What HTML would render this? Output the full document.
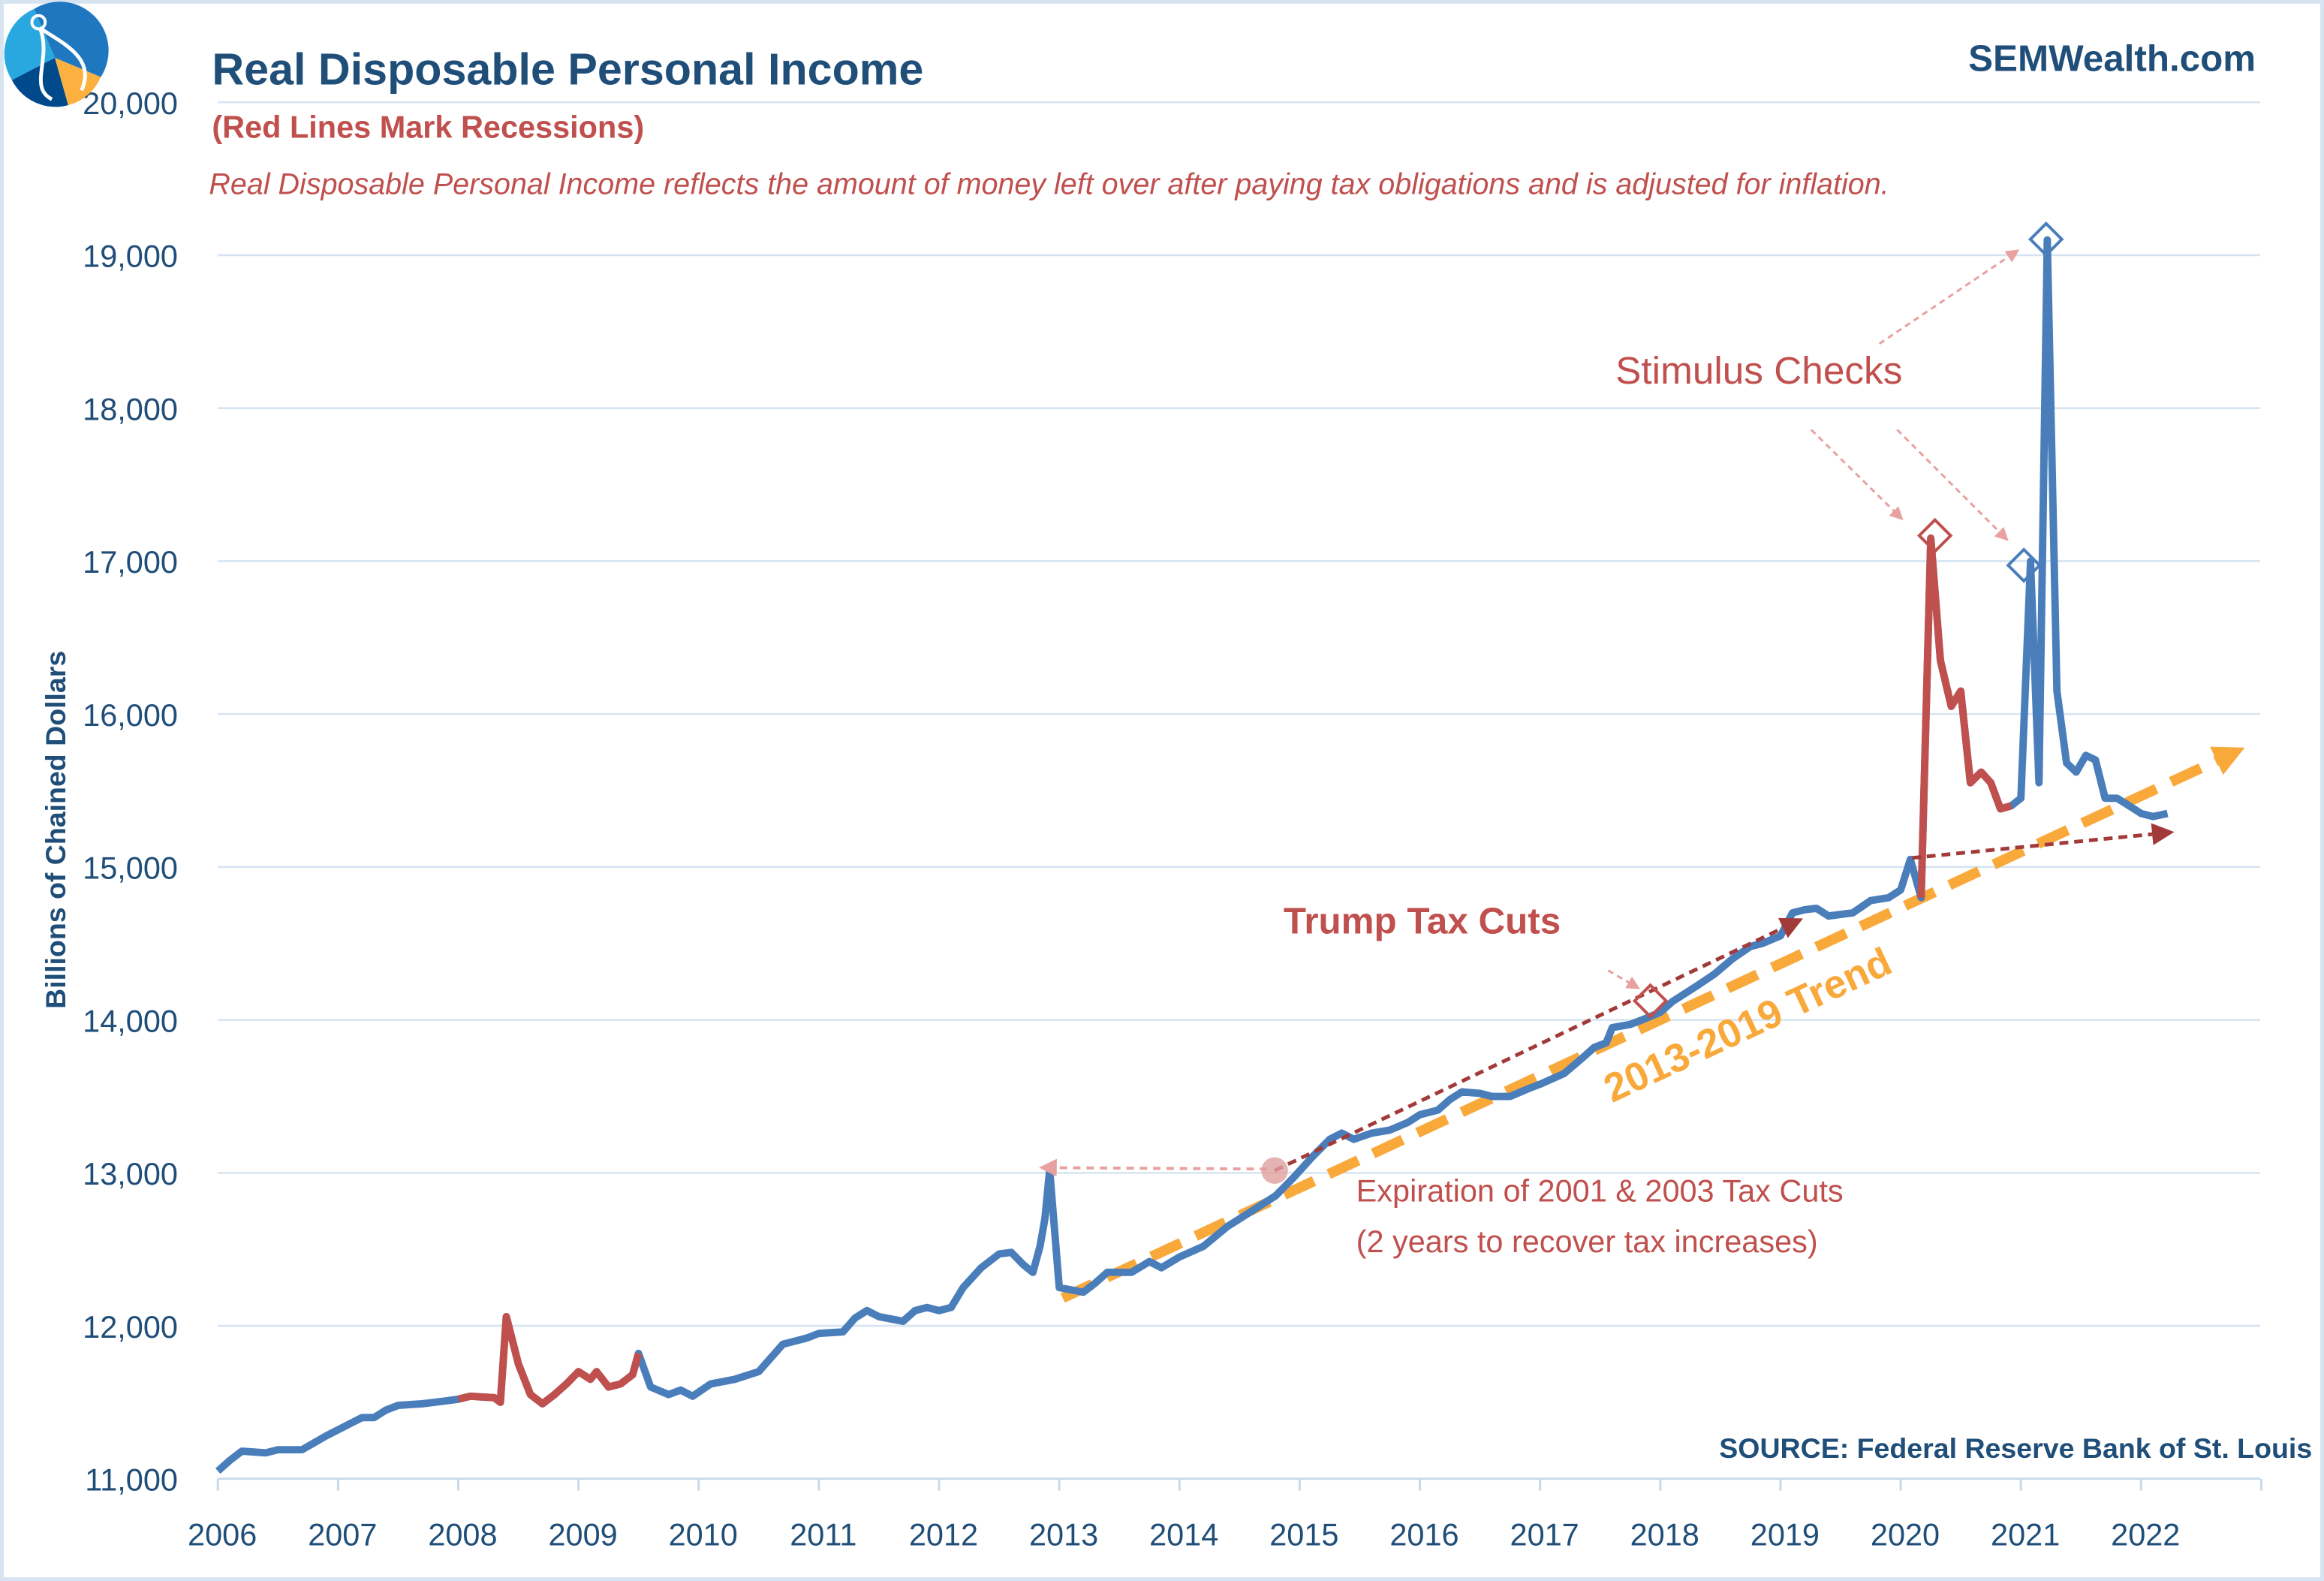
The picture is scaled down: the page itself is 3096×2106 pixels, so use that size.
<!DOCTYPE html>
<html><head><meta charset="utf-8"><style>
html,body{margin:0;padding:0;background:#fff;}
svg{display:block;font-family:"Liberation Sans",sans-serif;}
</style></head><body>
<svg id="chart" width="3096" height="2106" viewBox="0 0 1568 1067" preserveAspectRatio="none" xmlns="http://www.w3.org/2000/svg">
<defs>
<marker id="arrO" markerWidth="3" markerHeight="3" refX="1.5" refY="1.5" orient="auto" markerUnits="strokeWidth"><path d="M0,0 L3,1.5 L0,3 z" fill="#f9a83a"/></marker>
<marker id="arrR" markerWidth="6" markerHeight="6" refX="4" refY="3" orient="auto" markerUnits="strokeWidth"><path d="M0,0 L6,3 L0,6 z" fill="#a33a3a"/></marker>
<marker id="arrP" markerWidth="6" markerHeight="6" refX="4" refY="3" orient="auto" markerUnits="strokeWidth"><path d="M0,0 L6,3 L0,6 z" fill="#e8a0a0"/></marker>
</defs>
<rect x="1" y="1" width="1566" height="1065" fill="#fff" stroke="#d6e4f2" stroke-width="3"/>
<g id="grid"></g>
<g id="axes"></g>
<g id="ann">
  <line x1="717" y1="876" x2="1505" y2="509" stroke="#f9a83a" stroke-width="7" stroke-dasharray="22,11" marker-end="url(#arrO)"/>
</g>
<g id="series"></g>
<g>
  <line x1="860" y1="790" x2="1212" y2="622" stroke="#a33a3a" stroke-width="2.5" stroke-dasharray="6,4" marker-end="url(#arrR)"/>
  <line x1="1290" y1="579" x2="1462" y2="562" stroke="#a33a3a" stroke-width="2.5" stroke-dasharray="6,4" marker-end="url(#arrR)"/>
  <line x1="855" y1="789" x2="705" y2="788" stroke="#e8a0a0" stroke-width="2" stroke-dasharray="5,4" marker-end="url(#arrP)"/>
  <circle cx="860" cy="790" r="9" fill="#e0a0a0" opacity="0.8"/>
  <line x1="1085" y1="655" x2="1104" y2="666" stroke="#e8a0a0" stroke-width="1.5" stroke-dasharray="4,3" marker-end="url(#arrP)"/>
  <line x1="1222" y1="290" x2="1282" y2="349" stroke="#e8a0a0" stroke-width="1.5" stroke-dasharray="4,3" marker-end="url(#arrP)"/>
  <line x1="1280" y1="290" x2="1353" y2="363" stroke="#e8a0a0" stroke-width="1.5" stroke-dasharray="4,3" marker-end="url(#arrP)"/>
  <line x1="1268" y1="232" x2="1360" y2="170" stroke="#e8a0a0" stroke-width="1.5" stroke-dasharray="4,3" marker-end="url(#arrP)"/>
  <rect x="1106" y="668" width="15" height="15" fill="none" stroke="#c0504d" stroke-width="2" transform="rotate(45 1113.5 675.5)"/>
  <rect x="1298" y="354" width="15" height="15" fill="none" stroke="#c0504d" stroke-width="2" transform="rotate(45 1305.5 361.5)"/>
  <rect x="1358" y="374" width="15" height="15" fill="none" stroke="#4a7ebb" stroke-width="2" transform="rotate(45 1365.5 381.5)"/>
  <rect x="1373" y="154" width="15" height="15" fill="none" stroke="#4a7ebb" stroke-width="2" transform="rotate(45 1380.5 161.5)"/>
</g>
<text x="1183" y="700" font-size="27" font-weight="bold" fill="#f9a83a" transform="rotate(-25 1183 700)" text-anchor="middle">2013-2019 Trend</text>
<text x="866" y="630" font-size="25" font-weight="bold" fill="#c0504d">Trump Tax Cuts</text>
<text x="1090" y="259" font-size="26" fill="#c0504d">Stimulus Checks</text>
<text x="915" y="811" font-size="21" fill="#c0504d">Expiration of 2001 &amp; 2003 Tax Cuts</text>
<text x="915" y="845" font-size="21" fill="#c0504d">(2 years to recover tax increases)</text>
<text x="143" y="57" font-size="30" font-weight="bold" fill="#1f4e79">Real Disposable Personal Income</text>
<text x="143" y="93" font-size="21" font-weight="bold" fill="#c0504d">(Red Lines Mark Recessions)</text>
<text x="141" y="131" font-size="20" font-style="italic" fill="#c0504d">Real Disposable Personal Income reflects the amount of money left over after paying tax obligations and is adjusted for inflation.</text>
<text x="1522" y="48" font-size="25" font-weight="bold" fill="#1f4e79" text-anchor="end">SEMWealth.com</text>
<text x="1560" y="984" font-size="19" font-weight="bold" fill="#1f4e79" text-anchor="end">SOURCE:  Federal Reserve Bank of St. Louis</text>
<text x="44" y="560" font-size="19" font-weight="bold" fill="#1f4e79" text-anchor="middle" transform="rotate(-90 44 560)">Billions of Chained Dollars</text>
<g transform="translate(37,39)">
  <path d="M0,0 L-14,-33 A33,33 0 0 1 31,13 Z" fill="#1f77c0"/>
  <path d="M0,0 L31,13 A33,33 0 0 1 9,32 Z" fill="#fbb040"/>
  <path d="M0,0 L9,32 A33,33 0 0 1 -29,15 Z" fill="#004a8c"/>
  <path d="M0,0 L-29,15 A33,33 0 0 1 -14,-33 Z" fill="#29a8e0"/>
  <path d="M-10,-20 C-2,0 -18,20 -2,28 M-10,-20 C5,-10 28,0 18,22" fill="none" stroke="#fff" stroke-width="2.5"/>
  <circle cx="-11" cy="-24" r="4.5" fill="none" stroke="#fff" stroke-width="2"/>
</g>
<script>
const yTicks=[11000,12000,13000,14000,15000,16000,17000,18000,19000,20000];
const xYears=[2006,2007,2008,2009,2010,2011,2012,2013,2014,2015,2016,2017,2018,2019,2020,2021,2022];
const dates=[2006.0,2006.1,2006.2,2006.4,2006.5,2006.7,2006.9,2007.1,2007.2,2007.3,2007.4,2007.5,2007.7,2007.8,2007.9,2008.0,2008.1,2008.3,2008.35,2008.4,2008.5,2008.6,2008.7,2008.8,2008.9,2009.0,2009.1,2009.15,2009.25,2009.35,2009.45,2009.5,2009.6,2009.75,2009.85,2009.95,2010.1,2010.3,2010.5,2010.7,2010.9,2011.0,2011.2,2011.3,2011.4,2011.5,2011.7,2011.8,2011.9,2012.0,2012.1,2012.2,2012.35,2012.5,2012.6,2012.7,2012.78,2012.84,2012.88,2012.92,2013.0,2013.2,2013.3,2013.4,2013.6,2013.75,2013.85,2014.0,2014.2,2014.4,2014.6,2014.8,2014.95,2015.1,2015.25,2015.35,2015.45,2015.6,2015.75,2015.9,2016.0,2016.15,2016.25,2016.35,2016.5,2016.6,2016.75,2016.9,2017.0,2017.2,2017.35,2017.45,2017.55,2017.6,2017.75,2017.85,2018.0,2018.1,2018.3,2018.45,2018.6,2018.75,2018.85,2019.0,2019.1,2019.2,2019.3,2019.4,2019.6,2019.75,2019.9,2020.0,2020.08,2020.17,2020.25,2020.33,2020.42,2020.5,2020.58,2020.67,2020.75,2020.83,2020.92,2021.0,2021.08,2021.15,2021.22,2021.3,2021.38,2021.46,2021.54,2021.62,2021.7,2021.8,2021.9,2022.0,2022.1,2022.22];
const values=[11050,11120,11180,11170,11190,11190,11280,11360,11400,11400,11450,11480,11490,11500,11510,11520,11540,11530,11500,12060,11750,11550,11490,11550,11620,11700,11650,11700,11600,11620,11680,11820,11600,11550,11580,11540,11620,11650,11700,11880,11920,11950,11960,12050,12100,12060,12030,12100,12120,12100,12120,12250,12380,12470,12480,12400,12350,12520,12700,13020,12250,12220,12280,12350,12350,12420,12380,12450,12520,12650,12750,12850,12970,13100,13220,13260,13220,13260,13280,13330,13380,13410,13480,13530,13520,13500,13500,13550,13580,13650,13750,13820,13850,13950,13970,14000,14050,14120,14220,14300,14400,14480,14500,14550,14700,14720,14730,14680,14700,14780,14800,14850,15050,14800,17150,16350,16050,16150,15550,15620,15550,15380,15400,15450,17000,15550,19100,16150,15680,15620,15730,15700,15450,15450,15400,15350,15330,15350,15300];
const recessions=[[2007.95,2009.5],[2020.12,2020.93]];
const X=v=>147+(v-2006)*81.1;
const Y=v=>998-(v-11000)*0.10322;
const NS='http://www.w3.org/2000/svg';
function mk(tag,attrs,parent){const e=document.createElementNS(NS,tag);for(const k in attrs)e.setAttribute(k,attrs[k]);parent.appendChild(e);return e;}
const grid=document.getElementById('grid'),axes=document.getElementById('axes'),series=document.getElementById('series');
yTicks.forEach(t=>{
  if(t>11000){const l=mk('line',{x1:147,x2:1525,y1:Y(t),y2:Y(t),stroke:'#d6e4f2','stroke-width':1.3},grid);
  
  }
  const tx=mk('text',{x:120,y:Y(t)+8,'font-size':21,fill:'#1f4e79','text-anchor':'end'},axes);
  tx.textContent=t.toLocaleString('en-US');
  
  
});
const xa=mk('line',{x1:147,x2:1525,y1:998,y2:998,stroke:'#c9d9ea','stroke-width':1.5},axes);


xYears.concat([2023]).forEach(yr=>{
  const tk=mk('line',{x1:X(yr),x2:X(yr),y1:998,y2:1006,stroke:'#c9d9ea','stroke-width':1.5},axes);
  
  
});
xYears.forEach(yr=>{
  const tx=mk('text',{x:X(yr)+3,y:1043,'font-size':21,fill:'#1f4e79','text-anchor':'middle'},axes);
  tx.textContent=yr;
  
  
});
const pts=dates.map((d,i)=>X(d).toFixed(1)+','+Y(values[i]).toFixed(1));
const main=mk('polyline',{points:pts.join(' '),fill:'none',stroke:'#4a7ebb','stroke-width':5,'stroke-linejoin':'round'},series);


recessions.forEach(([a,b])=>{
  const p=[];dates.forEach((d,i)=>{if(d>=a&&d<=b)p.push(X(d).toFixed(1)+','+Y(values[i]).toFixed(1));});
  const r=mk('polyline',{points:p.join(' '),fill:'none',stroke:'#c0504d','stroke-width':5,'stroke-linejoin':'round'},series);
  
  
});
</script>
</svg>
</body></html>
